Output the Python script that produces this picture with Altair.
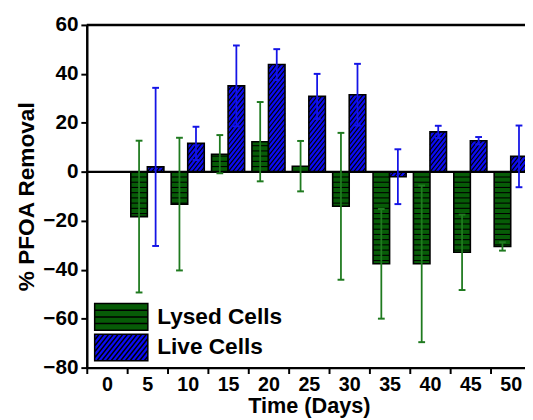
import altair as alt
import pandas as pd

# ---- data ----
days = [0, 5, 10, 15, 20, 25, 30, 35, 40, 45, 50]
lysed = [0, -18.3, -13.2, 7.2, 12.3, 2.3, -14.1, -37.6, -37.6, -32.9, -30.5]
lysed_err = [0, 31.0, 27.1, 7.8, 16.2, 10.3, 30.0, 22.4, 32.0, 15.4, 1.7]
live = [0, 2.0, 11.6, 35.1, 43.8, 30.8, 31.5, -2.0, 16.3, 12.7, 6.3]
live_err = [0, 32.3, 6.8, 16.5, 6.3, 9.2, 12.6, 11.2, 2.5, 1.5, 12.6]
series_names = ["Lysed Cells", "Live Cells"]
y_ticks = [-80, -60, -40, -20, 0, 20, 40, 60]

# ---- styles ----
fill_colors = ["#075c07", "#0c0cf2"]
err_colors = ["#1f7a1f", "#1414e6"]
FONT = "Liberation Sans"
PLOT_W, PLOT_H = 445, 348
BAND_RANGE = 451
PAD_OUT = 0.22
WD = 5 / (2 + 2 * PAD_OUT)          # bar width in day units
PX_PER_UNIT = PLOT_H / 140.0
STRIPE = 5.3 / PX_PER_UNIT
HATCH_H = 5.5 / PX_PER_UNIT
HATCH_R = (WD * BAND_RANGE / 55.0) * 1.25 / PX_PER_UNIT
CAP = 0.42

rows = []
for i, d in enumerate(days):
    rows.append(dict(day=d, series=series_names[0], value=lysed[i], err=lysed_err[i], side=-1,
                     ecol=err_colors[0], fcol=fill_colors[0]))
    rows.append(dict(day=d, series=series_names[1], value=live[i], err=live_err[i], side=1,
                     ecol=err_colors[1], fcol=fill_colors[1]))
df = pd.DataFrame(rows)

# legend swatch paths (units scaled by sqrt(size)/2 = 13.5 px)
path_lysed = "M-2,-1H2V1H-2Z M-2,-0.5H2 M-2,0H2 M-2,0.5H2"
segs = []
m = 1.25
c = -1 - 2 * m
while c <= 1 + 2 * m:
    xa = max(-2.0, (c - 1) / m)
    xb = min(2.0, (c + 1) / m)
    if xb - xa > 0.02:
        segs.append("M%.3f,%.3fL%.3f,%.3f" % (xa, c - m * xa, xb, c - m * xb))
    c += 0.444
path_live = "M-2,-1H2V1H-2Z " + " ".join(segs)

yscale = alt.Scale(domain=[-80, 60], nice=False, zero=False)
yaxis = alt.Axis(values=y_ticks, title="% PFOA Removal", grid=False,
                 domainColor="black", domainWidth=2.5, tickColor="black", tickWidth=2, tickSize=6,
                 labelFont=FONT, labelFontSize=21, labelFontWeight="bold", labelColor="black", labelPadding=3,
                 titleFont=FONT, titleFontSize=23, titleFontWeight="bold", titleColor="black", titlePadding=4)
xband = alt.Scale(domain=days, range=[0, BAND_RANGE], paddingInner=0, paddingOuter=0)
xaxis = alt.Axis(title="Time (Days)", labelAngle=0, tickBand="extent", grid=False,
                 domainColor="black", domainWidth=2.5, tickColor="black", tickWidth=2, tickSize=6,
                 labelFont=FONT, labelFontSize=20, labelFontWeight="bold", labelColor="black", labelPadding=1,
                 titleFont=FONT, titleFontSize=22, titleFontWeight="bold", titleColor="black", titlePadding=2)
xq = alt.Scale(domain=[-2.5, 52.5], range=[0, BAND_RANGE], nice=False, zero=False)
color_scale = alt.Scale(domain=series_names, range=fill_colors)

base = alt.Chart(df)

bars = base.mark_bar(stroke="black", strokeWidth=1.6).encode(
    x=alt.X("day:O", scale=xband, axis=xaxis),
    xOffset=alt.XOffset("series:N", scale=alt.Scale(domain=series_names, paddingOuter=PAD_OUT, paddingInner=0)),
    y=alt.Y("value:Q", scale=yscale, axis=yaxis),
    y2=alt.datum(0),
    fill=alt.Fill("fcol:N", scale=None),
)

stripes = base.transform_filter(
    "datum.series == 'Lysed Cells' && datum.value != 0"
).transform_calculate(
    k="sequence(1, ceil(abs(datum.value) / %f))" % STRIPE
).transform_flatten(["k"]).transform_calculate(
    ys="(datum.value < 0 ? -1 : 1) * datum.k * %f" % STRIPE,
    xs="datum.day - %f" % WD,
    xe="datum.day",
).transform_filter("abs(datum.ys) < abs(datum.value) - 0.3").mark_rule(color="black", strokeWidth=1.1).encode(
    x=alt.X("xs:Q", scale=xq, axis=None), x2="xe:Q",
    y=alt.Y("ys:Q", scale=yscale, axis=yaxis),
)

hatch = base.transform_filter(
    "datum.series == 'Live Cells' && datum.value != 0"
).transform_calculate(
    lo="min(0, datum.value)", hi="max(0, datum.value)"
).transform_calculate(
    ks="sequence(floor((datum.lo - %f) / %f), ceil(datum.hi / %f) + 1)" % (HATCH_R, HATCH_H, HATCH_H)
).transform_flatten(["ks"]).transform_calculate(
    y0="datum.ks * %f" % HATCH_H
).transform_calculate(
    ys="max(datum.y0, datum.lo)", ye="min(datum.y0 + %f, datum.hi)" % HATCH_R
).transform_filter("datum.ye - datum.ys > 0.05").transform_calculate(
    xs="datum.day + (datum.ys - datum.y0) / %f * %f" % (HATCH_R, WD),
    xe="datum.day + (datum.ye - datum.y0) / %f * %f" % (HATCH_R, WD),
).mark_rule(color="black", strokeWidth=1.1).encode(
    x=alt.X("xs:Q", scale=xq, axis=None), x2="xe:Q",
    y=alt.Y("ys:Q", scale=yscale, axis=yaxis), y2="ye:Q",
)

errbase = base.transform_filter("datum.err > 0").transform_calculate(
    xc="datum.day + datum.side * %f" % (WD / 2),
    lo="datum.value - datum.err", hi="datum.value + datum.err",
).transform_calculate(cl="datum.xc - %f" % CAP, cr="datum.xc + %f" % CAP)

whisk = errbase.mark_rule(strokeWidth=1.8).encode(
    x=alt.X("xc:Q", scale=xq, axis=None),
    y=alt.Y("lo:Q", scale=yscale, axis=yaxis), y2="hi:Q",
    stroke=alt.Stroke("ecol:N", scale=None),
)
cap_lo = errbase.mark_rule(strokeWidth=2).encode(
    x=alt.X("cl:Q", scale=xq, axis=None), x2="cr:Q",
    y=alt.Y("lo:Q", scale=yscale, axis=yaxis),
    stroke=alt.Stroke("ecol:N", scale=None),
)
cap_hi = errbase.mark_rule(strokeWidth=2).encode(
    x=alt.X("cl:Q", scale=xq, axis=None), x2="cr:Q",
    y=alt.Y("hi:Q", scale=yscale, axis=yaxis),
    stroke=alt.Stroke("ecol:N", scale=None),
)

zero_line = alt.Chart(pd.DataFrame({"z": [0]})).mark_rule(color="black", strokeWidth=2.2).encode(
    y=alt.Y("z:Q", scale=yscale, axis=yaxis))
top_line = alt.Chart(pd.DataFrame({"z": [60]})).mark_rule(color="black", strokeWidth=2.5).encode(
    y=alt.Y("z:Q", scale=yscale, axis=yaxis))

leg = alt.Legend(title=None, orient="none", legendX=20.5, legendY=282, padding=0,
                 symbolSize=729, rowPadding=-4, labelOffset=22,
                 labelFont=FONT, labelFontSize=23, labelFontWeight="bold", labelColor="black",
                 symbolStrokeWidth=1.5, symbolOpacity=1)
legend_layer = base.transform_filter("datum.day == 0").mark_point(
    filled=True, opacity=0, stroke="black", strokeWidth=1.5
).encode(
    color=alt.Color("series:N", scale=color_scale, legend=leg),
    shape=alt.Shape("series:N", scale=alt.Scale(domain=series_names, range=[path_lysed, path_live]), legend=leg),
)

chart = alt.layer(
    bars, stripes, hatch, zero_line, whisk, cap_lo, cap_hi, top_line, legend_layer
).resolve_scale(x="independent").properties(
    width=PLOT_W, height=PLOT_H,
    autosize=alt.AutoSizeParams(type="none"),
    padding={"left": 80, "top": 14, "right": 0, "bottom": 50},
).configure_view(stroke=None).configure(background="white")

chart.save("out.html", embed_options={"renderer": "svg", "actions": False})
